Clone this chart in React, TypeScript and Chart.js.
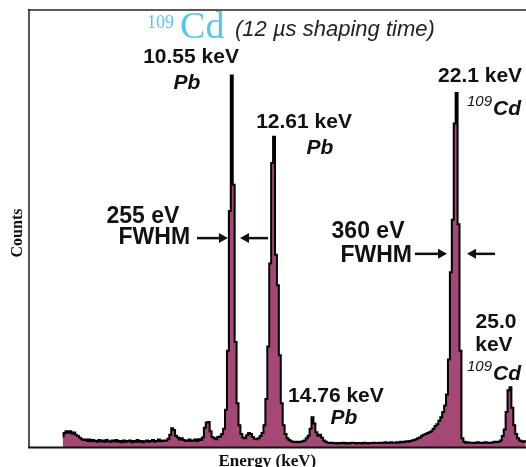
import React, { useEffect, useRef } from "react";
import { Chart, registerables } from "chart.js";

Chart.register(...registerables);

// Spectrum: counts per 0.1 keV channel (relative units, 100 = top of frame)
const binStartKeV = 1.7;
const binWidthKeV = 0.1;
const counts: number[] = [
  // 1.75 - 1.95
  2.4, 3.2, 3.6,
  // 2.05 - 2.95
  3.3, 3.6, 3.1, 3.3, 2.8, 2.5, 2.1, 1.8, 1.6, 1.7,
  // 3.x
  1.4, 1.7, 1.3, 1.6, 1.4, 1.2, 1.6, 1.3, 1.5, 1.2,
  // 4.x
  1.6, 1.3, 1.2, 1.5, 1.3, 1.6, 1.2, 1.4, 1.1, 1.5,
  // 5.x
  1.2, 1.4, 1.5, 1.1, 1.4, 1.2, 1.6, 1.2, 1.4, 1.1,
  // 6.x
  1.3, 1.5, 1.2, 1.4, 1.6, 1.2, 1.4, 1.7, 1.3, 1.5,
  // 7.x
  1.4, 1.5, 1.9, 2.8, 4.3, 3.9, 2.6, 2.2, 1.7, 2.0,
  // 8.x
  1.6, 1.4, 1.5, 1.7, 1.4, 1.5, 1.7, 1.4, 1.8, 1.6,
  // 9.x
  2.2, 4.4, 5.6, 5.7, 3.6, 2.3, 2.0, 1.8, 2.3, 2.4,
  // 10.x  (10.55 keV Pb)
  3.0, 4.2, 8.5, 22, 54, 85, 60, 24, 10, 5,
  // 11.x
  3.0, 2.2, 2.0, 2.7, 3.2, 3.0, 2.3, 1.9, 1.8, 2.0,
  // 12.x  (12.61 keV Pb)
  2.5, 3.2, 5.0, 11, 23, 42, 65, 71, 44, 37,
  // 13.x
  21, 10, 5, 3, 2, 1.6, 1.3, 1.2, 1.1, 1.2,
  // 14.x  (14.76 keV Pb)
  1.1, 1.2, 1.3, 1.5, 2.0, 2.6, 4.2, 6.8, 5.4, 3.4,
  // 15.x
  2.6, 2.8, 2.1, 1.5, 1.2, 1.0, 0.9, 1.0, 0.9, 0.8,
  // 16.x
  0.9, 0.8, 0.9, 1.0, 0.8, 0.9, 0.8, 0.9, 1.0, 0.9,
  // 17.x
  0.8, 0.9, 0.9, 0.8, 1.0, 0.9, 0.8, 0.9, 0.9, 1.0,
  // 18.x
  0.9, 0.9, 1.0, 0.9, 1.0, 1.1, 0.9, 1.0, 1.1, 1.0,
  // 19.x
  1.0, 1.1, 1.0, 1.2, 1.1, 1.2, 1.3, 1.2, 1.4, 1.5,
  // 20.x
  1.6, 1.8, 2.0, 2.2, 2.6, 2.8, 3.0, 3.2, 3.4, 3.6,
  // 21.x
  4.2, 4.8, 5.2, 6.0, 6.8, 8.0, 9.5, 12, 20, 40,
  // 22.x  (22.1 keV 109Cd)
  52, 74, 81, 51, 22, 2.0, 1.2, 1.0, 1.1, 1.0,
  // 23.x
  1.0, 0.9, 1.0, 1.1, 1.0, 0.9, 1.0, 1.1, 1.0, 0.9,
  // 24.x
  1.0, 1.1, 1.2, 1.1, 1.2, 1.5, 2.5, 4.0, 8.0, 13,
  // 25.05 - 25.85  (25.0 keV 109Cd)
  13.7, 9, 5, 3, 2, 1.5, 1.3, 1.2, 1.4,
];

const xMinKeV = 0;
const xMaxKeV = 25.86;
const yMax = 100;

// Annotations anchored in data coordinates [keV, counts]
const peakLabels = [
  { text: "10.55 keV", at: [8.43, 89.2] },
  { text: "12.61 keV", at: [14.31, 74.4] },
  { text: "22.1 keV", at: [23.47, 84.9] },
  { text: "14.76 keV", at: [15.97, 11.7] },
  { text: "25.0", at: [24.3, 28.6] },
  { text: "keV", at: [24.19, 23.3] },
];
const elementLabels = [
  { text: "Pb", at: [8.22, 83.3] },
  { text: "Pb", at: [15.14, 68.4] },
  { text: "Pb", at: [16.39, 6.6] },
];
const cdLabels = [
  { sup: "109", main: "Cd", at: [22.79, 76.0] },
  { sup: "109", main: "Cd", at: [22.79, 15.3] },
];
const fwhmLabels = [
  { value: "255 eV", valueAt: [5.93, 52.6], fwhmRight: [8.38, 47.8] },
  { value: "360 eV", valueAt: [17.64, 49.2], fwhmRight: [19.93, 43.9] },
];
const arrows = [
  { from: [8.74, 47.8], to: [10.35, 47.8] },
  { from: [12.44, 47.8], to: [10.98, 47.8] },
  { from: [20.08, 44.2], to: [21.75, 44.2] },
  { from: [24.25, 44.2], to: [22.79, 44.2] },
];
const titleIsotope = { sup: "109", main: "Cd", supAt: [6.14, 96.9], mainAt: [7.86, 93.6] };
const titleNote = { text: "(12 \u00b5s shaping time)", at: [10.72, 95.4] };
const xTitle = "Energy (keV)";
const yTitle = "Counts";

const SANS = '"Liberation Sans", Arial, sans-serif';
const SERIF = '"Liberation Serif", "Times New Roman", serif';

const annotationPlugin = {
  id: "annotations",
  afterDraw(chart: any) {
    const { ctx, chartArea } = chart;
    const xs = chart.scales.x;
    const ys = chart.scales.y;
    const px = (e: number) => xs.getPixelForValue(e);
    const py = (c: number) => ys.getPixelForValue(c);

    ctx.save();
    // frame
    ctx.lineCap = "butt";
    ctx.strokeStyle = "#555";
    ctx.lineWidth = 2;
    ctx.beginPath();
    ctx.moveTo(chartArea.left, chartArea.top - 1);
    ctx.lineTo(chartArea.left, chartArea.bottom + 1);
    ctx.stroke();
    ctx.strokeStyle = "#222";
    ctx.lineWidth = 1.5;
    ctx.beginPath();
    ctx.moveTo(chartArea.left - 1, chartArea.top);
    ctx.lineTo(chartArea.right, chartArea.top);
    ctx.stroke();
    ctx.strokeStyle = "#111";
    ctx.lineWidth = 2;
    ctx.beginPath();
    ctx.moveTo(chartArea.left - 1, chartArea.bottom + 0.5);
    ctx.lineTo(chartArea.right, chartArea.bottom + 0.5);
    ctx.stroke();

    ctx.fillStyle = "#111";
    ctx.textBaseline = "middle";
    ctx.textAlign = "center";

    // peak energy labels
    ctx.font = `bold 21px ${SANS}`;
    for (const l of peakLabels) ctx.fillText(l.text, px(l.at[0]), py(l.at[1]));
    ctx.font = `italic bold 21px ${SANS}`;
    for (const l of elementLabels) ctx.fillText(l.text, px(l.at[0]), py(l.at[1]));

    // 109Cd labels
    ctx.textAlign = "left";
    for (const l of cdLabels) {
      const x = px(l.at[0]);
      const yb = py(l.at[1]);
      ctx.textBaseline = "alphabetic";
      ctx.font = `italic 15px ${SANS}`;
      ctx.fillText(l.sup, x, yb - 9);
      const w = ctx.measureText(l.sup).width;
      ctx.font = `italic bold 21px ${SANS}`;
      ctx.fillText(l.main, x + w + 1, yb);
    }

    // FWHM labels
    ctx.textBaseline = "middle";
    for (const f of fwhmLabels) {
      ctx.font = `bold 23px ${SANS}`;
      ctx.textAlign = "center";
      ctx.fillText(f.value, px(f.valueAt[0]), py(f.valueAt[1]));
      ctx.textAlign = "right";
      ctx.fillText("FWHM", px(f.fwhmRight[0]), py(f.fwhmRight[1]));
    }

    // arrows
    ctx.strokeStyle = "#111";
    ctx.lineWidth = 2.5;
    for (const a of arrows) {
      const x1 = px(a.from[0]);
      const y1 = py(a.from[1]);
      const x2 = px(a.to[0]);
      const y2 = py(a.to[1]);
      const dir = Math.sign(x2 - x1);
      const head = 9;
      ctx.beginPath();
      ctx.moveTo(x1, y1);
      ctx.lineTo(x2 - dir * head, y2);
      ctx.stroke();
      ctx.beginPath();
      ctx.moveTo(x2, y2);
      ctx.lineTo(x2 - dir * head, y2 - 5);
      ctx.lineTo(x2 - dir * head, y2 + 5);
      ctx.closePath();
      ctx.fill();
    }

    // title
    ctx.textAlign = "left";
    ctx.fillStyle = "#55c6f0";
    ctx.textBaseline = "middle";
    ctx.font = `18px ${SERIF}`;
    ctx.fillText(titleIsotope.sup, px(titleIsotope.supAt[0]), py(titleIsotope.supAt[1]));
    ctx.textBaseline = "alphabetic";
    ctx.font = `38px ${SERIF}`;
    ctx.fillText(titleIsotope.main, px(titleIsotope.mainAt[0]), py(titleIsotope.mainAt[1]));
    ctx.fillStyle = "#222";
    ctx.textBaseline = "middle";
    ctx.font = `italic 22px ${SANS}`;
    ctx.fillText(titleNote.text, px(titleNote.at[0]), py(titleNote.at[1]));

    // axis titles
    ctx.fillStyle = "#111";
    ctx.font = `bold 17px ${SERIF}`;
    ctx.textAlign = "center";
    ctx.textBaseline = "alphabetic";
    ctx.fillText(xTitle, px(12.4), chartArea.bottom + 19);
    ctx.save();
    ctx.translate(18, 233);
    ctx.rotate(-Math.PI / 2);
    ctx.textBaseline = "middle";
    ctx.font = `bold 16px ${SERIF}`;
    ctx.fillText(yTitle, 0, 0);
    ctx.restore();

    ctx.restore();
  },
};

export default function App() {
  const canvasRef = useRef<HTMLCanvasElement | null>(null);

  useEffect(() => {
    if (!canvasRef.current) return;
    const points = counts.map((c, i) => ({
      x: binStartKeV + binWidthKeV * (i + 0.5),
      y: c,
    }));
    const chart = new Chart(canvasRef.current, {
      type: "line",
      data: {
        datasets: [
          {
            data: points,
            stepped: "middle",
            fill: "origin",
            backgroundColor: "rgb(166,72,118)",
            borderColor: "#000",
            borderWidth: 2,
            pointRadius: 0,
          },
        ],
      },
      options: {
        animation: false,
        responsive: false,
        maintainAspectRatio: false,
        devicePixelRatio: 1,
        layout: { padding: { left: 29, top: 10, right: 0, bottom: 20 } },
        scales: {
          x: { type: "linear", min: xMinKeV, max: xMaxKeV, display: false },
          y: { type: "linear", min: 0, max: yMax, display: false },
        },
        plugins: {
          legend: { display: false },
          tooltip: { enabled: false },
          title: { display: false },
        },
      },
      plugins: [annotationPlugin],
    } as any);
    return () => chart.destroy();
  }, []);

  return (
    <div style={{ position: "absolute", left: 0, top: 0, width: 526, height: 467, background: "#fff" }}>
      <canvas ref={canvasRef} width={526} height={467} />
    </div>
  );
}
